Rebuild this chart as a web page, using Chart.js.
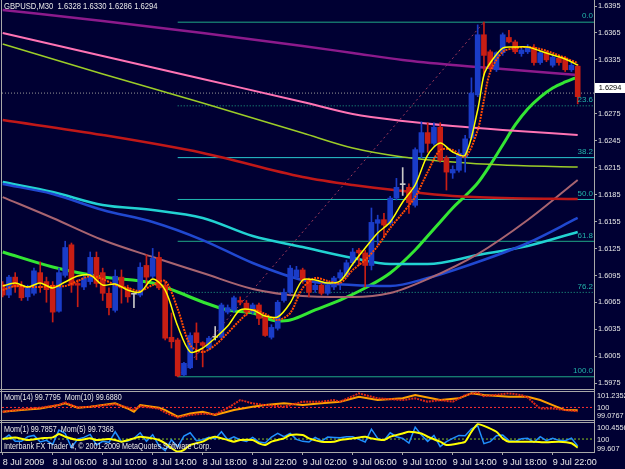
<!DOCTYPE html>
<html><head><meta charset="utf-8">
<script src="https://cdn.jsdelivr.net/npm/chart.js@4.4.1/dist/chart.umd.min.js"></script>
<style>html,body{margin:0;padding:0;background:#000033;overflow:hidden}canvas{display:block}</style>
</head><body>
<canvas id="c" width="625" height="469" style="width:625px;height:469px"></canvas>
<script>
// ---------------- DATA ----------------
const symbolName = 'GBPUSD,M30';
const timeLabels = ['8 Jul 2009','8 Jul 06:00','8 Jul 10:00','8 Jul 14:00','8 Jul 18:00','8 Jul 22:00','9 Jul 02:00','9 Jul 06:00','9 Jul 10:00','9 Jul 14:00','9 Jul 18:00','9 Jul 22:00'];
const timeTickBars = [0,8,16,24,32,40,48,56,64,72,80,88];
const priceTicks = [1.5975,1.6005,1.6035,1.6065,1.6095,1.6125,1.6155,1.6185,1.6215,1.6245,1.6275,1.6305,1.6335,1.6365,1.6395];

const openP  = [1.6085,1.6073,1.6093,1.6084,1.6071,1.6075,1.6098,1.6088,1.6084,1.6055,1.6095,1.6129,1.6086,1.6082,1.6088,1.6115,1.6098,1.6075,1.6056,1.6093,1.6081,1.6074,1.6073,1.6106,1.6094,1.6115,1.6084,1.6026,1.6023,1.5984,1.5992,1.6031,1.6020,1.6014,1.6026,1.6026,1.6054,1.6056,1.6067,1.6064,1.6054,1.6062,1.6049,1.6026,1.6036,1.6067,1.6076,1.6093,1.6101,1.6090,1.6079,1.6084,1.6075,1.6082,1.6092,1.6095,1.6109,1.6123,1.6120,1.6106,1.6153,1.6157,1.6153,1.6181,1.6196,1.6193,1.6173,1.6232,1.6254,1.6242,1.6260,1.6226,1.6209,1.6212,1.6227,1.6248,1.6296,1.6363,1.6344,1.6324,1.6343,1.6360,1.6355,1.6342,1.6344,1.6349,1.6332,1.6343,1.6329,1.6337,1.6337,1.6324,1.6328];
const highP  = [1.6088,1.6095,1.6098,1.6088,1.6084,1.6103,1.6110,1.6093,1.6088,1.6103,1.6133,1.6131,1.6090,1.6095,1.6121,1.6121,1.6103,1.6081,1.6101,1.6101,1.6084,1.6075,1.6109,1.6118,1.6125,1.6121,1.6088,1.6053,1.6025,1.5998,1.6031,1.6042,1.6021,1.6027,1.6038,1.6064,1.6062,1.6072,1.6071,1.6067,1.6064,1.6064,1.6051,1.6040,1.6067,1.6080,1.6106,1.6105,1.6103,1.6092,1.6086,1.6086,1.6088,1.6094,1.6101,1.6112,1.6125,1.6125,1.6123,1.6170,1.6162,1.6164,1.6183,1.6203,1.6215,1.6197,1.6237,1.6266,1.6265,1.6265,1.6265,1.6228,1.6217,1.6235,1.6251,1.6315,1.6374,1.6377,1.6346,1.6344,1.6365,1.6368,1.6357,1.6348,1.6352,1.6352,1.6345,1.6345,1.6340,1.6339,1.6339,1.6332,1.6330];
const lowP   = [1.6071,1.6070,1.6076,1.6067,1.6067,1.6073,1.6076,1.6065,1.6043,1.6054,1.6093,1.6076,1.6060,1.6079,1.6085,1.6082,1.6067,1.6051,1.6054,1.6064,1.6065,1.6059,1.6071,1.6082,1.6092,1.6079,1.6023,1.6014,1.5982,1.5983,1.5991,1.6001,1.5993,1.6012,1.6023,1.6025,1.6052,1.6054,1.6062,1.6050,1.6052,1.6040,1.6027,1.6024,1.6034,1.6065,1.6074,1.6091,1.6086,1.6071,1.6076,1.6073,1.6073,1.6079,1.6079,1.6093,1.6106,1.6106,1.6082,1.6101,1.6129,1.6138,1.6151,1.6179,1.6184,1.6164,1.6171,1.6226,1.6232,1.6240,1.6221,1.6190,1.6203,1.6210,1.6210,1.6246,1.6294,1.6318,1.6324,1.6322,1.6340,1.6354,1.6342,1.6339,1.6342,1.6329,1.6330,1.6333,1.6327,1.6329,1.6322,1.6322,1.6286];
const closeP = [1.6073,1.6093,1.6082,1.6070,1.6082,1.6100,1.6086,1.6079,1.6054,1.6098,1.6126,1.6084,1.6084,1.6092,1.6115,1.6086,1.6075,1.6059,1.6094,1.6081,1.6071,1.6074,1.6104,1.6093,1.6114,1.6081,1.6025,1.6021,1.5983,1.5997,1.6028,1.6020,1.6017,1.6025,1.6026,1.6062,1.6059,1.6070,1.6065,1.6054,1.6062,1.6047,1.6028,1.6037,1.6065,1.6076,1.6103,1.6101,1.6090,1.6076,1.6084,1.6075,1.6084,1.6092,1.6098,1.6109,1.6121,1.6120,1.6106,1.6154,1.6157,1.6151,1.6181,1.6193,1.6196,1.6176,1.6235,1.6254,1.6242,1.6260,1.6223,1.6210,1.6213,1.6231,1.6247,1.6298,1.6363,1.6340,1.6327,1.6343,1.6363,1.6355,1.6344,1.6346,1.6349,1.6332,1.6343,1.6335,1.6338,1.6332,1.6324,1.6329,1.6294];

// long moving averages (read at sampled bars)
const maLongBars = [0,16,32,48,56,64,72,80,92];
const maPurple   = [1.63906,1.63783,1.63649,1.63505,1.63427,1.63349,1.63293,1.63248,1.63182];
const maPink     = [1.63649,1.63393,1.63137,1.62881,1.62747,1.62669,1.62613,1.62569,1.62513];
const maOlive    = [1.63527,1.63193,1.62870,1.62535,1.62368,1.62268,1.62212,1.62179,1.62157];
const maDarkRed  = [1.62680,1.62513,1.62313,1.62045,1.61956,1.61889,1.61834,1.61811,1.61800];
const maMidBars  = [0,8,16,24,32,40,48,56,62,68,76,84,92];
const maMauve    = [1.61822,1.61589,1.61343,1.61154,1.60976,1.60798,1.60720,1.60708,1.60753,1.60909,1.61187,1.61566,1.62012];
const maBlue     = [1.61967,1.61856,1.61678,1.61544,1.61343,1.61087,1.60898,1.60842,1.60831,1.60920,1.61098,1.61310,1.61589];
const maCyan     = [1.61990,1.61878,1.61733,1.61678,1.61589,1.61388,1.61265,1.61143,1.61076,1.61076,1.61176,1.61277,1.61433];
const maGreenBars= [0,8,16,24,28,32,36,40,44,46,50,54,58,62,66,68,70,72,74,76,78,80,82,84,86,88,90,92];
const maGreen    = [1.61210,1.61043,1.60931,1.60864,1.60764,1.60653,1.60564,1.60530,1.60441,1.60452,1.60564,1.60675,1.60809,1.60976,1.61232,1.61388,1.61544,1.61700,1.61834,1.61978,1.62179,1.62402,1.62625,1.62803,1.62936,1.63037,1.63104,1.63159];
// fast moving averages
const maFastBars = [0,2,4,6,8,10,12,14,16,18,20,22,24,26,28,30,32,34,36,38,40,42,44,46,48,50,52,54,56,58,60,62,64,66,68,70,72,74,76,77,78,80,82,84,86,88,90,92];
const maYellow   = [1.60831,1.60864,1.60820,1.60864,1.60809,1.60876,1.60942,1.60954,1.60842,1.60853,1.60786,1.60764,1.60909,1.60786,1.60385,1.60096,1.60140,1.60252,1.60385,1.60564,1.60564,1.60497,1.60486,1.60642,1.60898,1.60898,1.60864,1.60887,1.61076,1.61254,1.61421,1.61544,1.61767,1.61956,1.62290,1.62424,1.62324,1.62290,1.62792,1.63182,1.63315,1.63482,1.63493,1.63493,1.63449,1.63404,1.63360,1.63293];
const maOrange   = [1.60786,1.60831,1.60820,1.60820,1.60831,1.60831,1.60887,1.60942,1.60909,1.60842,1.60809,1.60775,1.60842,1.60887,1.60575,1.60174,1.60096,1.60174,1.60307,1.60452,1.60564,1.60519,1.60452,1.60530,1.60809,1.60920,1.60887,1.60864,1.61009,1.61121,1.61277,1.61477,1.61644,1.61822,1.62101,1.62346,1.62346,1.62268,1.62569,1.62903,1.63215,1.63438,1.63482,1.63493,1.63471,1.63427,1.63371,1.63315];

// Fibonacci retracement + trend line
const fibLabels = ['0.0','23.6','38.2','50.0','61.8','76.2','100.0'];
const fibPrices = [1.6377,1.62838,1.62261,1.61795,1.61329,1.60760,1.5982];
const fibStartBar = 28;
const trendBars = [28,77];
const trendPrices = [1.5982,1.6377];
const markerLinePrice = 1.6298;

// momentum panels
const mom14Bars = [0,3,6,9,10,12,14,18,20,21,22,25,26,28,30,32,34,37,40,42,45,48,51,54,57,60,64,66,70,73,75,77,81,84,86,88,90,92];
const mom14 = [99.66,99.79,99.92,100.19,100.33,99.98,100.06,100.33,99.92,99.66,100.19,99.98,99.79,99.26,99.52,99.66,99.39,99.79,100.06,100.19,100.33,100.19,100.33,100.46,100.86,100.59,100.73,100.99,100.59,100.73,101.13,100.99,100.86,100.86,100.59,100.19,99.79,99.78];
const mom10Bars = [0,3,6,9,10,12,14,18,20,21,22,25,26,28,30,32,34,36,38,40,42,45,48,51,53,54,57,60,64,66,68,70,72,74,76,77,81,83,84,85,86,88,90,92];
const mom10 = [99.66,99.85,99.98,100.2,100.4,100.0,100.06,100.25,100.0,99.8,100.1,99.9,99.6,99.2,99.4,99.5,99.45,99.95,100.59,100.33,100.19,100.06,100.46,100.46,100.59,100.46,101.13,100.73,100.59,100.73,100.46,100.59,100.46,100.99,101.2,100.9,101.13,100.99,100.8,100.33,99.92,99.92,99.79,99.69];
const mom1 = [99.98,100.12,99.93,99.93,100.07,100.11,99.91,99.96,99.84,100.27,100.17,99.74,100.0,100.05,100.14,99.82,99.93,99.90,100.22,99.92,99.94,100.02,100.19,99.93,100.13,99.80,99.65,99.98,99.76,100.09,100.19,99.95,99.98,100.05,100.01,100.22,99.98,100.07,99.97,99.93,100.05,99.91,99.88,100.06,100.17,100.07,100.17,99.99,99.93,99.91,100.05,99.94,100.06,100.05,100.04,100.07,100.07,99.99,99.91,100.30,100.02,99.96,100.19,100.07,100.02,99.88,100.36,100.12,99.93,100.11,99.77,99.92,100.02,100.11,100.10,100.31,100.40,99.86,99.92,100.10,100.12,99.95,99.93,100.01,100.02,99.90,100.07,99.95,100.02,99.96,99.95,100.03,99.79];
const mom5Bars = [0,2,4,6,8,9,10,12,14,15,17,18,19,21,22,24,25,26,27,28,29,30,32,33,34,36,37,38,40,41,42,43,45,46,48,49,51,53,54,56,58,59,61,62,64,65,67,68,70,71,73,74,75,76,77,79,80,81,83,85,87,89,91,92];
const mom5 = [100.0,100.05,99.97,100.02,100.05,100.15,100.07,99.97,100.02,99.97,100.0,99.97,99.92,100.02,100.07,100.02,99.97,99.87,99.72,99.62,99.67,99.82,99.92,100.02,100.07,99.97,99.92,99.97,99.97,99.87,99.82,99.92,100.02,100.12,100.12,100.02,99.92,99.92,99.97,100.02,100.07,100.02,99.97,100.07,100.17,100.22,100.17,100.07,99.92,99.82,99.87,99.92,100.22,100.45,100.40,100.22,100.02,99.92,99.92,99.92,99.90,99.92,99.87,99.74];
const momLevel = 100;
const panel2Range = [99.0767, 101.2352];
const panel3Range = [99.607, 100.4556];
const panel2Legend = 'Mom(14) 99.7795  Mom(10) 99.6880';
const panel3Legend = 'Mom(1) 99.7857  Mom(5) 99.7368';
const copyrightText = 'Interbank FX Trader 4, \u00a9 2001-2009 MetaQuotes Software Corp.';

// ---------------- LAYOUT / STYLE ----------------
const BG = '#000033';
const FONT = "'Liberation Sans', Arial, sans-serif";
const FRAME = '#a8a8a8';
const TXT = '#e8e8e8';
const X_MIN = -0.112, X_MAX = 94.61;
const Y_MIN = 1.58982, Y_MAX = 1.64017;
const Y2_MIN = 96.4387, Y2_MAX = 132.573;
const Y3_MIN = 99.607, Y3_MAX = 113.306;
const BULL = '#1a3cc8', BEAR = '#c81e14', DOJI = '#c8c8c8';

const bars = openP.map((_, i) => i);
const pts = (xs, ys) => xs.map((x, k) => ({x, y: ys[k]}));
const candleColor = ctx => { const i = ctx.dataIndex; return closeP[i] > openP[i] ? BULL : (closeP[i] < openP[i] ? BEAR : DOJI); };

function line(data, color, width, order, extra) {
  return Object.assign({type:'line', data, borderColor:color, borderWidth:width, pointRadius:0, fill:false,
    cubicInterpolationMode:'monotone', order, xAxisID:'x', yAxisID:'y'}, extra || {});
}

const datasets = [];
// fibonacci lines
fibPrices.forEach((p, k) => {
  const dotted = (k === 1 || k === 5);
  const col = (k === 2) ? '#28c8d0' : (k === 3 ? '#20b8b0' : '#1fa888');
  datasets.push(line([{x:fibStartBar,y:p},{x:X_MAX,y:p}], col, 1, 40, dotted ? {borderDash:[1,2]} : {}));
});
datasets.push(line(pts(trendBars, trendPrices), '#a03a5a', 1, 40, {borderDash:[2,3]}));
datasets.push(line([{x:X_MIN,y:markerLinePrice},{x:X_MAX,y:markerLinePrice}], '#9a9a9a', 1, 40, {borderDash:[1,2]}));
// long MAs
datasets.push(line(pts(maLongBars, maPurple), '#8c1a8c', 2.5, 30));
datasets.push(line(pts(maLongBars, maPink), '#ff73b4', 2, 30));
datasets.push(line(pts(maLongBars, maOlive), '#9ccc28', 1.5, 30));
datasets.push(line(pts(maLongBars, maDarkRed), '#c01818', 2.5, 30));
datasets.push(line(pts(maMidBars, maMauve), '#a86470', 2, 30));
datasets.push(line(pts(maMidBars, maBlue), '#2048d0', 2.5, 30));
datasets.push(line(pts(maMidBars, maCyan), '#22d2d2', 2.5, 30));
datasets.push(line(pts(maGreenBars, maGreen), '#33e633', 3, 30));
// candles
datasets.push({type:'bar', data: bars.map(i => ({x:i, y:[lowP[i], highP[i]]})), backgroundColor: candleColor,
  barThickness:1, grouped:false, borderWidth:0, order:21, xAxisID:'x', yAxisID:'y'});
datasets.push({type:'bar', data: bars.map(i => ({x:i, y:[openP[i], closeP[i]]})), backgroundColor: candleColor,
  barThickness:5, grouped:false, borderWidth:0, minBarLength:1, order:20, xAxisID:'x', yAxisID:'y'});
// fast MAs
datasets.push(line(pts(maFastBars, maOrange), '#ff4a00', 2, 2, {borderDash:[2,1], cubicInterpolationMode:'default', tension:0.3}));
datasets.push(line(pts(maFastBars, maYellow), '#ffff00', 1.5, 1, {cubicInterpolationMode:'default', tension:0.3}));
// momentum panel 2
datasets.push(line([{x:X_MIN,y:momLevel},{x:X_MAX,y:momLevel}], '#ff3030', 1, 9, {borderDash:[2,2], yAxisID:'y2'}));
datasets.push(line(pts(mom14Bars, mom14), '#ffa000', 2, 8, {yAxisID:'y2', cubicInterpolationMode:'default', tension:0}));
datasets.push(line(pts(mom10Bars, mom10), '#e02814', 2, 7, {yAxisID:'y2', borderDash:[2,1], cubicInterpolationMode:'default', tension:0}));
// momentum panel 3
datasets.push(line([{x:X_MIN,y:momLevel},{x:X_MAX,y:momLevel}], '#8cc81e', 1, 9, {borderDash:[2,2], yAxisID:'y3'}));
datasets.push(line(pts(bars, mom1), '#2090ff', 1.5, 8, {yAxisID:'y3', cubicInterpolationMode:'default', tension:0}));
datasets.push(line(pts(mom5Bars, mom5), '#ffff00', 2, 7, {yAxisID:'y3', cubicInterpolationMode:'default', tension:0.2}));

function drawText(c, s, x, y, color, size, align, sx) {
  c.save(); c.font = size + 'px ' + FONT; c.fillStyle = color; c.textBaseline = 'middle';
  c.textAlign = align || 'left'; c.translate(x, y); c.scale(sx || 1, 1); c.fillText(s, 0, 0); c.restore();
}

const mt4 = {
  id: 'mt4',
  beforeDraw(chart) {
    const c = chart.ctx; c.save(); c.fillStyle = BG; c.fillRect(0, 0, chart.width, chart.height); c.restore();
  },
  beforeDatasetsDraw(chart) {
    const c = chart.ctx, a = chart.chartArea, y2 = chart.scales.y2, y3 = chart.scales.y3;
    const t2 = Math.round(y2.getPixelForValue(panel2Range[1])) - 1, b2 = Math.round(y2.getPixelForValue(panel2Range[0])) + 1;
    const t3 = Math.round(y3.getPixelForValue(panel3Range[1])) - 2;
    c.save(); c.strokeStyle = FRAME; c.lineWidth = 1; c.beginPath();
    [t2 - 2, t2, b2, t3, a.bottom].forEach(y => { c.moveTo(0, y + 0.5); c.lineTo(a.right, y + 0.5); });
    c.moveTo(1.5, 0); c.lineTo(1.5, a.bottom);
    c.stroke(); c.restore();
  },
  afterDraw(chart) {
    const c = chart.ctx, ys = chart.scales.y, y2 = chart.scales.y2, y3 = chart.scales.y3, a = chart.chartArea;
    const n = closeP.length - 1;
    drawText(c, symbolName + '  ' + [openP[n], highP[n], lowP[n], closeP[n]].map(v => v.toFixed(4)).join(' '), 4, 7, TXT, 9, 'left', 0.85);
    fibLabels.forEach((s, k) => drawText(c, s, a.right - 1, ys.getPixelForValue(fibPrices[k]) - 6, '#22b4aa', 8, 'right', 1));
    priceTicks.forEach(v => drawText(c, v.toFixed(4), 598, ys.getPixelForValue(v), TXT, 8, 'left', 0.92));
    const by = Math.round(ys.getPixelForValue(markerLinePrice));
    c.fillStyle = '#ffffff'; c.fillRect(a.right + 1, by - 10, chart.width - a.right - 1, 10);
    drawText(c, closeP[n].toFixed(4), a.right + 16, by - 5, '#000000', 8, 'center', 0.92);
    // panel legends
    drawText(c, panel2Legend, 4, y2.getPixelForValue(panel2Range[1]) + 6, TXT, 9, 'left', 0.8);
    drawText(c, panel3Legend, 4, y3.getPixelForValue(panel3Range[1]) + 6, TXT, 9, 'left', 0.8);
    drawText(c, copyrightText, 4, y3.getPixelForValue(panel3Range[0]) - 5, TXT, 9, 'left', 0.8);
    // panel scale labels
    drawText(c, panel2Range[1].toFixed(4), 597, y2.getPixelForValue(panel2Range[1]) + 4, TXT, 8, 'left', 0.92);
    drawText(c, String(momLevel), 597, y2.getPixelForValue(momLevel), TXT, 8, 'left', 0.92);
    drawText(c, panel2Range[0].toFixed(4), 597, y2.getPixelForValue(panel2Range[0]) - 3, TXT, 8, 'left', 0.92);
    drawText(c, panel3Range[1].toFixed(4), 597, y3.getPixelForValue(panel3Range[1]) + 4, TXT, 8, 'left', 0.92);
    drawText(c, String(momLevel), 597, y3.getPixelForValue(momLevel) + 1, TXT, 8, 'left', 0.92);
    drawText(c, String(panel3Range[0]), 597, y3.getPixelForValue(panel3Range[0]) - 3, TXT, 8, 'left', 0.92);
  }
};

new Chart(document.getElementById('c'), {
  type: 'line',
  data: { datasets },
  plugins: [mt4],
  options: {
    responsive: false, animation: false, devicePixelRatio: 1, events: [],
    layout: { padding: { left: 2, top: 0, right: 0, bottom: 0 } },
    plugins: { legend: { display: false }, tooltip: { enabled: false }, title: { display: false } },
    scales: {
      x: { type: 'linear', min: X_MIN, max: X_MAX, offset: false, position: 'bottom',
        afterBuildTicks: s => { s.ticks = timeTickBars.map(v => ({ value: v })); },
        afterFit: s => { s.height = 17; },
        ticks: { autoSkip: false, maxRotation: 0, minRotation: 0, align: 'start', padding: 2, color: TXT,
          font: { family: FONT, size: 9 }, callback: (v, i) => timeLabels[i] },
        grid: { display: true, drawOnChartArea: false, drawTicks: true, tickLength: 3, color: FRAME, offset: false },
        border: { display: true, color: FRAME } },
      y: { type: 'linear', position: 'right', min: Y_MIN, max: Y_MAX,
        afterBuildTicks: s => { s.ticks = priceTicks.map(v => ({ value: v })); },
        afterFit: s => { s.width = 31; },
        ticks: { display: false },
        grid: { display: true, drawOnChartArea: false, drawTicks: true, tickLength: 3, color: FRAME },
        border: { display: true, color: FRAME } },
      y2: { type: 'linear', axis: 'y', display: false, min: Y2_MIN, max: Y2_MAX },
      y3: { type: 'linear', axis: 'y', display: false, min: Y3_MIN, max: Y3_MAX }
    }
  }
});
</script>
</body></html>
